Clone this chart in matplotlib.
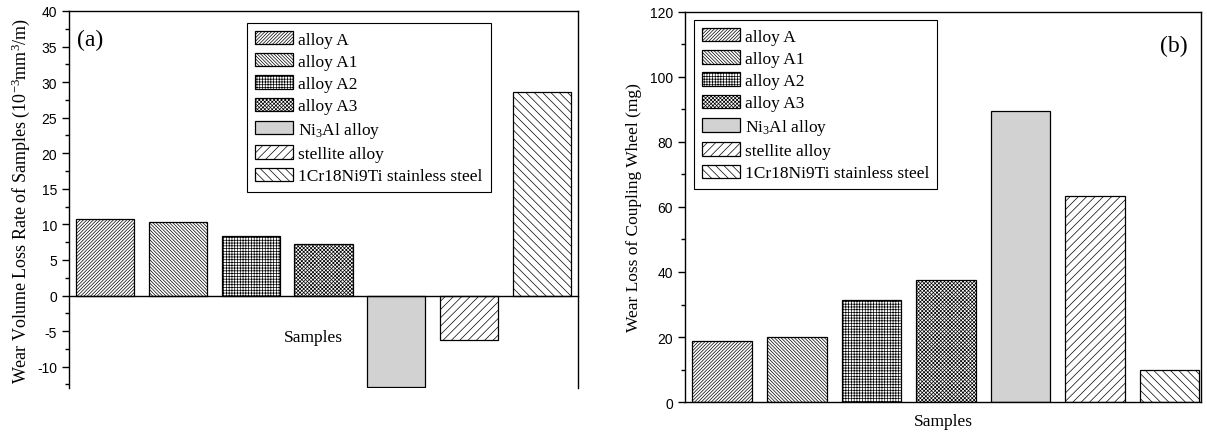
import numpy as np
import matplotlib
matplotlib.use("Agg")
import matplotlib.pyplot as plt
from matplotlib.ticker import MultipleLocator

# data
samples = ["alloy A", "alloy A1", "alloy A2", "alloy A3",
           "Ni$_3$Al alloy", "stellite alloy", "1Cr18Ni9Ti stainless steel"]
wear_rate = [10.7, 10.4, 8.4, 7.2, -12.8, -6.3, 28.6]      # 10^-3 mm^3/m
wheel_loss = [18.8, 20.1, 31.5, 37.6, 89.4, 63.5, 9.8]     # mg

hatches = ["/" * 10, "\\" * 10, "+" * 6, "x" * 9, "", "////", "\\" * 4]
faces = ["white", "white", "white", "white", "#d2d2d2", "white", "white"]

plt.rcParams["font.family"] = "Liberation Serif"
plt.rcParams["mathtext.fontset"] = "custom"
plt.rcParams["mathtext.rm"] = "Liberation Serif"
plt.rcParams["mathtext.it"] = "Liberation Serif:italic"
plt.rcParams["hatch.linewidth"] = 0.5
plt.rcParams["axes.unicode_minus"] = False

fig = plt.figure(figsize=(12.07, 4.39), dpi=100)
ax1 = fig.add_axes([0.0572, 0.1139, 0.4217, 0.8588])
ax2 = fig.add_axes([0.5675, 0.082, 0.4275, 0.8884])

x = np.arange(len(samples))


def draw_bars(ax, vals):
    for i in range(len(vals)):
        ax.bar(x[i], vals[i], width=0.8, color=faces[i], edgecolor="black",
               linewidth=0.9, hatch=hatches[i], label=samples[i])


def style_axis(ax):
    for s in ax.spines.values():
        s.set_linewidth(1.0)
    ax.set_xticks([])
    ax.tick_params(axis="y", direction="out", length=5, width=1.0, labelsize=10)
    ax.tick_params(axis="y", which="minor", direction="out", length=3, width=1.0)
    for lab in ax.get_yticklabels():
        lab.set_fontfamily("Liberation Sans")


def add_legend(ax, anchor):
    leg = ax.legend(loc="upper left", bbox_to_anchor=anchor, borderaxespad=0,
                    fontsize=12.5, frameon=True, fancybox=False, framealpha=1,
                    edgecolor="black", handlelength=2.2, handleheight=0.8,
                    labelspacing=0.32, handletextpad=0.3, borderpad=0.45)
    leg.get_frame().set_linewidth(0.8)


# (a) wear volume loss rate
draw_bars(ax1, wear_rate)
ax1.set_xlim(-0.5, 6.5)
ax1.set_ylim(-13, 40)
ax1.yaxis.set_major_locator(MultipleLocator(5))
ax1.yaxis.set_minor_locator(MultipleLocator(2.5))
ax1.spines["bottom"].set_position(("data", 0))
style_axis(ax1)
ax1.set_ylabel("Wear Volume Loss Rate of Samples (10$^{-3}$mm$^3$/m)", fontsize=13, labelpad=4)
ax1.text(0.48, 0.135, "Samples", transform=ax1.transAxes, ha="center", va="center", fontsize=12.5)
ax1.text(0.015, 0.925, "(a)", transform=ax1.transAxes, ha="left", va="center", fontsize=17)
add_legend(ax1, (0.35, 0.968))

# (b) wear loss of coupling wheel
draw_bars(ax2, wheel_loss)
ax2.set_xlim(-0.5, 6.42)
ax2.set_ylim(0, 120)
ax2.yaxis.set_major_locator(MultipleLocator(20))
ax2.yaxis.set_minor_locator(MultipleLocator(10))
style_axis(ax2)
ax2.set_ylabel("Wear Loss of Coupling Wheel (mg)", fontsize=12.5, labelpad=6)
ax2.set_xlabel("Samples", fontsize=12.5, labelpad=8)
ax2.text(0.975, 0.915, "(b)", transform=ax2.transAxes, ha="right", va="center", fontsize=17)
add_legend(ax2, (0.017, 0.979))

fig.savefig("out.png", dpi=100)
